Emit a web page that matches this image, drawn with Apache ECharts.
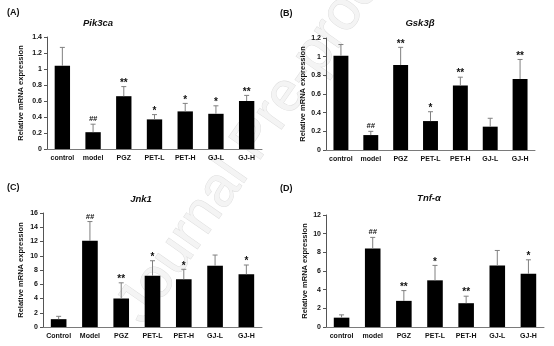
<!DOCTYPE html>
<html>
<head>
<meta charset="utf-8">
<script src="https://cdn.jsdelivr.net/npm/echarts@6/dist/echarts.min.js"></script>
<style>html,body{margin:0;padding:0;background:#fff}#c{width:554px;height:346px}</style>
</head>
<body>
<div id="c"></div>
<script>
// ---- data ----
var groupsLower = ['control', 'model', 'PGZ', 'PET-L', 'PET-H', 'GJ-L', 'GJ-H'];
var groupsUpper = ['Control', 'Model', 'PGZ', 'PET-L', 'PET-H', 'GJ-L', 'GJ-H'];

var pik3caMean = [1.04, 0.21, 0.66, 0.37, 0.47, 0.44, 0.60];
var pik3caSD   = [0.23, 0.10, 0.12, 0.06, 0.10, 0.10, 0.07];
var pik3caSig  = ['', '##', '**', '*', '*', '*', '**'];

var gsk3bMean = [1.01, 0.16, 0.91, 0.31, 0.69, 0.25, 0.76];
var gsk3bSD   = [0.12, 0.04, 0.19, 0.10, 0.09, 0.09, 0.21];
var gsk3bSig  = ['', '##', '**', '*', '**', '', '**'];

var jnk1Mean = [1.1, 12.1, 4.0, 7.2, 6.7, 8.6, 7.4];
var jnk1SD   = [0.4, 2.7, 2.2, 2.1, 1.4, 1.5, 1.3];
var jnk1Sig  = ['', '##', '**', '*', '*', '', '*'];

var tnfaMean = [1.0, 8.4, 2.8, 5.0, 2.55, 6.6, 5.7];
var tnfaSD   = [0.3, 1.2, 1.1, 1.6, 0.75, 1.6, 1.5];
var tnfaSig  = ['', '##', '**', '*', '**', '', '*'];

var yAxisName = 'Relative mRNA expression';

// ---- panels ----
var panels = [
  {title: 'Pik3ca', tag: '(A)', cats: groupsLower, mean: pik3caMean, sd: pik3caSD, sig: pik3caSig, max: 1.4, interval: 0.2,
   grid: {left: 47, top: 37, width: 215, height: 112}, nameGap: 22, titlePos: [98, 23], tagPos: [7, 13]},
  {title: 'Gsk3\u03B2', tag: '(B)', cats: groupsLower, mean: gsk3bMean, sd: gsk3bSD, sig: gsk3bSig, max: 1.2, interval: 0.2,
   grid: {left: 326, top: 38, width: 209, height: 112}, nameGap: 19, titlePos: [420, 23], tagPos: [280, 14]},
  {title: 'Jnk1', tag: '(C)', cats: groupsUpper, mean: jnk1Mean, sd: jnk1SD, sig: jnk1Sig, max: 16, interval: 2,
   grid: {left: 43, top: 213, width: 219, height: 114}, nameGap: 18, titlePos: [141, 199], tagPos: [7, 188]},
  {title: 'Tnf-\u03B1', tag: '(D)', cats: groupsLower, mean: tnfaMean, sd: tnfaSD, sig: tnfaSig, max: 12, interval: 2,
   grid: {left: 326, top: 215, width: 218, height: 112}, nameGap: 17, titlePos: [429, 198], tagPos: [280, 189]}
];

var FONT = '"Liberation Sans", Arial, sans-serif';
var grids = [], xAxes = [], yAxes = [], series = [], graphics = [];

graphics.push({
  type: 'text', x: 255, y: 140, rotation: 55 * Math.PI / 180, z: -10, silent: true,
  style: {text: 'Journal Pre-proof', font: '56px ' + FONT, fill: '#f4f4f4', stroke: '#dedede', lineWidth: 1,
          align: 'center', verticalAlign: 'middle'}
});

panels.forEach(function (p, i) {
  grids.push({left: p.grid.left, top: p.grid.top, width: p.grid.width, height: p.grid.height, containLabel: false});
  xAxes.push({
    type: 'category', gridIndex: i, data: p.cats,
    axisLine: {lineStyle: {color: '#7a7a7a', width: 1}},
    axisTick: {show: false},
    axisLabel: {color: '#111', fontSize: 7, fontWeight: 'bold', fontFamily: FONT, margin: 6, interval: 0}
  });
  yAxes.push({
    type: 'value', gridIndex: i, min: 0, max: p.max, interval: p.interval,
    name: yAxisName, nameLocation: 'middle', nameGap: p.nameGap,
    nameTextStyle: {color: '#111', fontSize: 7.5, fontWeight: 'bold', fontFamily: FONT},
    axisLine: {show: true, lineStyle: {color: '#555', width: 1}},
    axisTick: {show: true, length: 3, inside: false, lineStyle: {color: '#555'}},
    splitLine: {show: false},
    axisLabel: {color: '#111', fontSize: 7, fontWeight: 'bold', fontFamily: FONT, margin: 5}
  });
  series.push({
    type: 'bar', xAxisIndex: i, yAxisIndex: i, data: p.mean, barWidth: '50%',
    itemStyle: {color: '#000'}, silent: true, z: 2
  });
  var errData = p.mean.map(function (m, k) { return [k, m, p.sd[k]]; });
  series.push({
    type: 'custom', xAxisIndex: i, yAxisIndex: i, data: errData, z: 3, silent: true,
    encode: {x: 0, y: 1},
    renderItem: (function (sig) {
      return function (params, api) {
        var k = api.value(0), m = api.value(1), s = api.value(2);
        var base = api.coord([k, m]);
        var top = api.coord([k, m + s]);
        var cap = 2.5;
        var children = [
          {type: 'line', shape: {x1: base[0], y1: base[1], x2: top[0], y2: top[1]}, style: {stroke: '#808080', lineWidth: 1}},
          {type: 'line', shape: {x1: top[0] - cap, y1: top[1], x2: top[0] + cap, y2: top[1]}, style: {stroke: '#808080', lineWidth: 1}}
        ];
        if (sig[k]) {
          var isHash = sig[k] === '##';
          children.push({type: 'text', x: top[0], y: isHash ? top[1] - 1 : top[1] + 1.5,
            style: {text: sig[k], font: (isHash ? 'italic bold 7.5px ' : 'bold 10px ') + FONT, fill: '#111',
                    align: 'center', verticalAlign: 'bottom'}});
        }
        return {type: 'group', children: children};
      };
    })(p.sig)
  });
  graphics.push({type: 'text', x: p.titlePos[0], y: p.titlePos[1],
    style: {text: p.title, font: 'italic bold 9.5px ' + FONT, fill: '#111', align: 'center', verticalAlign: 'middle'}});
  graphics.push({type: 'text', x: p.tagPos[0], y: p.tagPos[1],
    style: {text: p.tag, font: 'bold 9px ' + FONT, fill: '#111', align: 'left', verticalAlign: 'middle'}});
});

var chart = echarts.init(document.getElementById('c'), null, {renderer: 'canvas'});
chart.setOption({
  animation: false,
  backgroundColor: '#fff',
  grid: grids, xAxis: xAxes, yAxis: yAxes, series: series, graphic: graphics
});
</script>
</body>
</html>
